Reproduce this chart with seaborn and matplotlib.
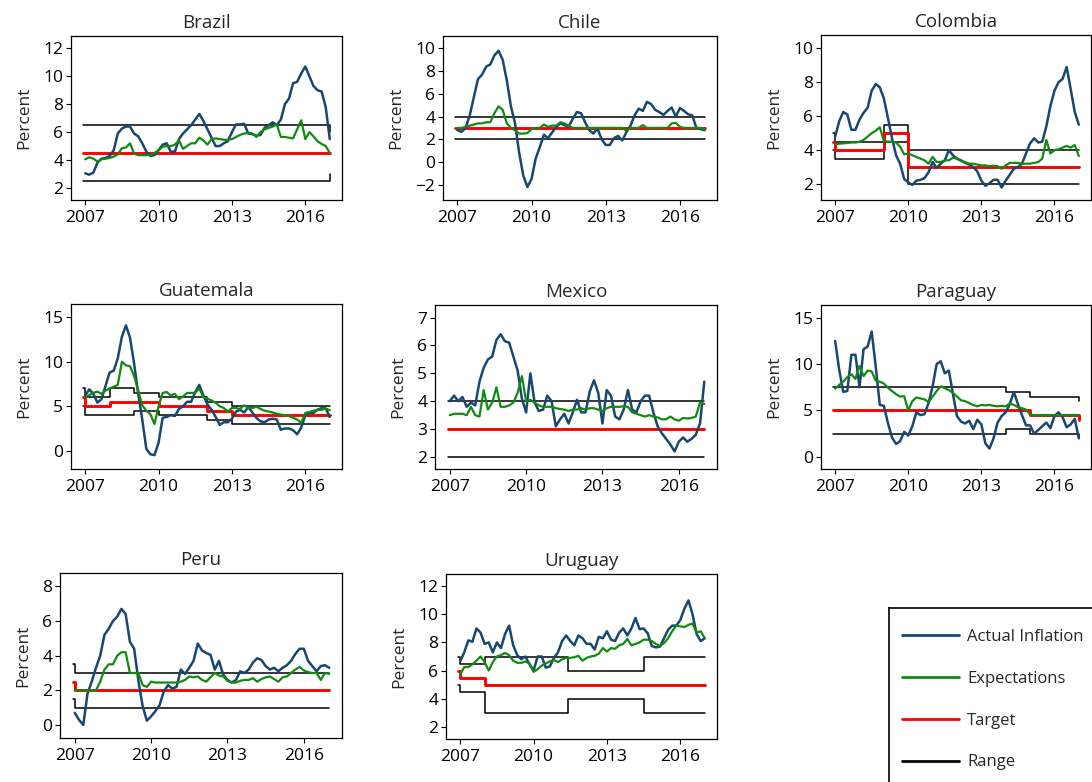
import numpy as np
import matplotlib
matplotlib.use("Agg")
import matplotlib.pyplot as plt
from matplotlib.lines import Line2D
import seaborn as sns

OUTPUT_PATH = "out.png"

# bi-monthly observations, Jan 2007 .. Jan 2017
YEARS = 2007 + np.arange(61) / 6

BRAZIL_INFL = [3.05, 2.95, 3.1, 3.8, 4.1, 4.15, 4.3, 4.7, 5.9, 6.25,
               6.4, 6.4, 5.9, 5.7, 5.2, 4.6, 4.3, 4.35, 4.7, 5.1,
               5.2, 4.6, 4.6, 5.5, 5.9, 6.2, 6.5, 6.9, 7.3, 6.8,
               6.2, 5.6, 5.0, 5.0, 5.2, 5.35, 6.0, 6.55, 6.55, 6.6,
               5.9, 5.85, 5.75, 5.8, 6.3, 6.5, 6.7, 6.5, 6.9, 8.0,
               8.4, 9.5, 9.6, 10.2, 10.7, 10.0, 9.3, 9.0, 8.9, 7.8,
               5.5]
BRAZIL_EXP = [4.05, 4.2, 4.1, 3.9, 4.05, 4.1, 4.15, 4.25, 4.4, 4.85,
              4.9, 5.2, 4.45, 4.35, 4.35, 4.35, 4.35, 4.5, 4.7, 4.95,
              5.0, 5.0, 5.1, 5.4, 4.8, 5.0, 5.2, 5.2, 5.6, 5.4,
              5.1, 5.5, 5.55, 5.5, 5.45, 5.45, 5.5, 5.65, 5.8, 5.9,
              5.95, 5.9, 5.65, 6.0, 6.2, 6.3, 6.4, 6.55, 5.65, 5.65,
              5.6, 5.55, 6.2, 6.85, 5.5, 6.0, 5.7, 5.35, 5.15, 5.0,
              4.5]

CHILE_INFL = [2.8, 2.65, 3.0, 4.1, 5.7, 7.3, 7.7, 8.4, 8.6, 9.4,
              9.8, 9.0, 7.2, 4.9, 3.4, 0.8, -1.2, -2.2, -1.5, 0.3,
              1.3, 2.4, 2.1, 2.6, 3.1, 3.4, 3.25, 3.1, 3.8, 4.4,
              4.3, 3.5, 2.8, 2.5, 2.95, 2.0, 1.5, 1.5, 2.1, 2.3,
              1.9, 2.6, 3.2, 4.1, 4.7, 4.5, 5.3, 5.1, 4.6, 4.4,
              4.15, 4.5, 4.8, 4.0, 4.75, 4.5, 4.2, 4.1, 3.0, 2.9,
              2.8]
CHILE_EXP = [3.0, 3.0, 3.1, 3.2, 3.3, 3.4, 3.4, 3.5, 3.5, 4.3,
             4.9, 4.6, 3.4, 3.0, 2.8, 2.5, 2.5, 2.55, 2.9, 3.0,
             3.0, 3.3, 3.1, 3.2, 3.2, 3.5, 3.4, 3.2, 3.0, 3.0,
             3.0, 3.0, 3.0, 3.0, 3.0, 3.0, 3.0, 3.0, 3.0, 3.0,
             3.0, 2.75, 3.0, 3.0, 3.0, 3.25, 3.0, 3.0, 3.0, 3.0,
             3.0, 3.0, 3.4, 3.45, 3.1, 3.0, 3.0, 3.0, 3.0, 3.0,
             2.9]

COLOMBIA_INFL = [4.8, 5.7, 6.25, 6.1, 5.2, 5.2, 5.8, 6.2, 6.5, 7.5,
                 7.9, 7.7, 7.05, 5.9, 4.7, 3.7, 3.2, 2.3, 2.1, 1.95,
                 2.2, 2.25, 2.35, 2.7, 3.3, 2.95, 3.2, 3.4, 4.0, 3.7,
                 3.5, 3.4, 3.25, 3.15, 3.0, 2.75, 2.2, 1.9, 2.05, 2.25,
                 2.25, 1.8, 2.2, 2.55, 2.9, 3.0, 3.2, 3.8, 4.4, 4.7,
                 4.45, 4.5, 5.4, 6.6, 7.5, 8.0, 8.2, 8.9, 7.6, 6.25,
                 5.5]
COLOMBIA_EXP = [4.35, 4.38, 4.4, 4.42, 4.45, 4.45, 4.5, 4.6, 4.8, 5.0,
                5.15, 5.35, 4.55, 4.5, 4.5, 4.45, 4.2, 3.75, 3.8, 3.7,
                3.6, 3.5, 3.4, 3.2, 3.6, 3.3, 3.3, 3.4, 3.4, 3.55,
                3.5, 3.35, 3.3, 3.2, 3.2, 3.15, 3.1, 3.1, 3.05, 3.08,
                3.05, 2.9, 3.1, 3.25, 3.25, 3.25, 3.2, 3.2, 3.2, 3.25,
                3.3, 3.5, 4.6, 3.8, 4.0, 4.05, 4.15, 4.25, 4.15, 4.3,
                3.65]

GUATEMALA_INFL = [6.2, 6.9, 6.4, 5.4, 5.8, 7.3, 8.8, 9.0, 10.4, 12.8,
                  14.1, 12.7, 9.8, 6.4, 3.5, 0.2, -0.4, -0.5, 0.9, 3.7,
                  3.8, 4.0, 3.9, 4.7, 5.0, 5.5, 5.5, 6.6, 7.4, 6.2,
                  5.2, 4.6, 3.8, 2.9, 3.2, 3.2, 3.6, 4.4, 4.6, 4.3,
                  4.9, 4.3, 3.7, 3.3, 3.2, 3.5, 3.6, 3.5, 2.35, 2.5,
                  2.5, 2.3, 1.85, 2.6, 4.0, 4.25, 4.25, 4.6, 4.8, 4.75,
                  3.8]
GUATEMALA_EXP = [6.0, 6.25, 6.5, 6.65, 6.4, 6.75, 7.0, 7.2, 7.4, 10.0,
                 9.6, 9.5, 8.4, 6.8, 5.1, 4.5, 4.1, 3.0, 5.0, 6.5,
                 6.6, 6.2, 6.4, 5.8, 6.1, 6.5, 6.5, 6.5, 7.0, 6.0,
                 5.85, 5.65, 5.4, 5.0, 4.8, 4.4, 4.8, 4.8, 4.7, 5.1,
                 4.8, 4.8, 4.95, 4.7, 4.5, 4.4, 4.3, 4.15, 4.05, 4.0,
                 3.9, 3.7, 3.5, 3.15, 4.25, 4.35, 4.5, 4.6, 4.6, 4.75,
                 4.55]

MEXICO_INFL = [4.0, 4.2, 4.0, 4.15, 3.8, 3.95, 3.85, 4.7, 5.2, 5.5,
               5.6, 6.2, 6.4, 6.15, 6.1, 5.6, 5.1, 4.1, 3.6, 5.0,
               3.95, 3.65, 3.7, 4.2, 4.0, 3.1, 3.35, 3.55, 3.2, 3.6,
               4.05, 3.6, 3.6, 4.35, 4.75, 4.3, 3.2, 4.4, 4.2, 3.45,
               3.35, 3.7, 4.4, 3.7, 3.6, 4.0, 4.2, 4.2, 3.6, 3.1,
               2.85, 2.65, 2.45, 2.2, 2.55, 2.7, 2.55, 2.65, 2.8, 3.2,
               4.7]
MEXICO_EXP = [3.5, 3.55, 3.55, 3.55, 3.5, 3.8, 3.5, 3.45, 4.4, 3.7,
              3.95, 4.5, 3.8, 3.8, 3.85, 3.95, 4.3, 4.9, 4.0, 4.05,
              3.95, 3.85, 3.8, 3.8, 3.8, 3.75, 3.72, 3.7, 3.65, 3.7,
              3.7, 3.75, 3.7, 3.75, 3.75, 3.7, 3.65, 3.75, 3.8, 3.8,
              3.8, 3.82, 3.8, 3.6, 3.55, 3.5, 3.45, 3.5, 3.45, 3.42,
              3.35, 3.35, 3.45, 3.35, 3.3, 3.4, 3.38, 3.4, 3.45, 3.95,
              3.9]

PARAGUAY_INFL = [12.5, 9.4, 7.0, 7.1, 11.0, 11.0, 7.5, 11.6, 11.9, 13.5,
                 9.7, 5.6, 5.5, 3.65, 2.1, 1.4, 1.7, 2.7, 2.3, 3.3,
                 4.8, 4.5, 4.6, 5.8, 7.6, 10.0, 10.3, 9.0, 9.3, 6.8,
                 4.4, 3.8, 3.6, 3.9, 3.0, 4.0, 3.5, 1.45, 0.9, 2.0,
                 3.7, 4.4, 4.8, 5.7, 7.0, 5.7, 4.5, 3.4, 3.4, 2.5,
                 2.9, 3.3, 3.7, 3.1, 4.4, 4.8, 4.3, 3.2, 3.5, 4.1,
                 2.0]
PARAGUAY_EXP = [7.35, 7.75, 8.1, 8.6, 8.9, 8.4, 9.8, 8.7, 9.3, 9.2,
                8.2, 8.1, 7.9, 7.45, 7.1, 6.75, 6.5, 6.55, 5.0, 6.0,
                6.4, 6.3, 6.2, 5.9, 6.5, 7.1, 7.6, 7.4, 7.2, 6.9,
                6.5, 6.1, 6.0, 5.8, 5.6, 5.45, 5.6, 5.55, 5.6, 5.5,
                5.45, 5.5, 5.45, 5.75, 5.6, 5.35, 5.25, 5.1, 4.55, 4.5,
                4.5, 4.5, 4.5, 4.5, 4.5, 4.5, 4.5, 4.5, 4.5, 4.5,
                4.5]

PERU_INFL = [0.7, 0.3, 0.0, 1.8, 2.5, 3.3, 4.0, 5.2, 5.55, 6.0,
             6.25, 6.7, 6.4, 4.8, 4.4, 2.55, 1.1, 0.25, 0.5, 0.8,
             1.15, 1.95, 2.3, 2.1, 2.2, 3.2, 2.95, 3.3, 3.7, 4.7,
             4.3, 4.15, 4.05, 3.2, 3.7, 2.9, 2.6, 2.45, 2.6, 3.1,
             3.0, 3.2, 3.6, 3.85, 3.75, 3.4, 3.2, 3.3, 3.1, 3.3,
             3.45, 3.7, 4.1, 4.4, 4.4, 3.7, 3.4, 3.1, 3.4, 3.45,
             3.3]
PERU_EXP = [2.0, 2.0, 2.0, 2.0, 2.0, 2.0, 2.5, 3.2, 3.5, 3.5,
            4.0, 4.2, 4.2, 3.0, 3.0, 3.0, 2.3, 2.2, 2.5, 2.45,
            2.45, 2.45, 2.45, 2.45, 2.45, 2.5, 2.6, 2.8, 2.75, 2.8,
            2.6, 2.5, 2.75, 3.0, 2.85, 2.8, 2.55, 2.45, 2.45, 2.55,
            2.6, 2.6, 2.7, 2.5, 2.65, 2.75, 2.8, 2.65, 2.5, 2.75,
            2.8, 3.0, 3.2, 3.35, 3.15, 3.05, 3.0, 3.0, 2.6, 3.0,
            2.95]

URUGUAY_INFL = [6.65, 7.3, 8.15, 8.05, 9.0, 8.7, 7.9, 8.0, 7.3, 8.0,
                7.6, 8.6, 9.2, 7.8, 7.1, 6.8, 7.0, 6.45, 6.0, 7.0,
                7.0, 6.2, 6.3, 6.9, 7.3, 8.1, 8.5, 8.1, 7.8, 8.5,
                8.3, 7.9, 7.9, 7.5, 8.4, 8.3, 8.8, 8.2, 8.1, 8.7,
                9.0, 8.5, 9.0, 9.75, 8.95, 9.0, 8.65, 7.75, 7.65, 7.7,
                8.3, 8.9, 9.2, 9.2, 9.6, 10.4, 11.0, 10.0, 8.6, 8.1,
                8.3]
URUGUAY_EXP = [5.7, 6.25, 6.25, 6.45, 6.7, 7.0, 6.6, 6.0, 6.6, 7.0,
               7.1, 7.25, 7.1, 6.7, 6.55, 6.55, 6.65, 6.5, 5.9, 6.1,
               6.35, 6.5, 6.65, 6.75, 6.6, 6.8, 6.9, 6.9, 6.95, 7.05,
               6.7, 6.9, 7.0, 7.05, 7.2, 7.6, 7.35, 7.6, 7.55, 7.8,
               7.9, 8.25, 7.8, 7.9, 8.0, 8.2, 8.2, 8.1, 7.9, 7.75,
               7.95, 8.3, 8.8, 9.2, 9.15, 9.1, 9.25, 9.35, 8.7, 8.8,
               8.3]

# target and range regimes: dates where a new value starts
BRAZIL_STEPS = [2006.92, 2016.92, 2017.0]
BRAZIL_TGT = [4.5, 4.5, 4.5]
BRAZIL_LO = [2.5, 2.5, 3.0]
BRAZIL_HI = [6.5, 6.5, 6.0]

CHILE_STEPS = [2006.92, 2017.0]
CHILE_TGT = [3.0, 3.0]
CHILE_LO = [2.0, 2.0]
CHILE_HI = [4.0, 4.0]

COLOMBIA_STEPS = [2006.92, 2007.0, 2009.0, 2010.0, 2017.0]
COLOMBIA_TGT = [4.5, 4.0, 5.0, 3.0, 3.0]
COLOMBIA_LO = [4.0, 3.5, 4.5, 2.0, 2.0]
COLOMBIA_HI = [5.0, 4.5, 5.5, 4.0, 4.0]

GUATEMALA_STEPS = [2006.92, 2007.0, 2008.0, 2009.0, 2010.0, 2012.0, 2013.0, 2017.0]
GUATEMALA_TGT = [6.0, 5.0, 5.5, 5.5, 5.0, 4.5, 4.0, 4.0]
GUATEMALA_LO = [5.0, 4.0, 4.0, 4.5, 4.0, 3.5, 3.0, 3.0]
GUATEMALA_HI = [7.0, 6.0, 7.0, 6.5, 6.0, 5.5, 5.0, 5.0]

MEXICO_STEPS = [2006.92, 2017.0]
MEXICO_TGT = [3.0, 3.0]
MEXICO_LO = [2.0, 2.0]
MEXICO_HI = [4.0, 4.0]

PARAGUAY_STEPS = [2006.92, 2014.0, 2015.0, 2016.92, 2017.0]
PARAGUAY_TGT = [5.0, 5.0, 4.5, 4.5, 4.0]
PARAGUAY_LO = [2.5, 3.0, 2.5, 2.5, 2.0]
PARAGUAY_HI = [7.5, 7.0, 6.5, 6.5, 6.0]

PERU_STEPS = [2006.92, 2007.0, 2017.0]
PERU_TGT = [2.5, 2.0, 2.0]
PERU_LO = [1.5, 1.0, 1.0]
PERU_HI = [3.5, 3.0, 3.0]

URUGUAY_STEPS = [2006.92, 2007.0, 2008.0, 2011.42, 2014.5, 2017.0]
URUGUAY_TGT = [6.0, 5.5, 5.0, 5.0, 5.0, 5.0]
URUGUAY_LO = [5.0, 4.5, 3.0, 4.0, 3.0, 3.0]
URUGUAY_HI = [7.0, 6.5, 7.0, 6.0, 7.0, 7.0]

SERIES = {
    "Brazil": (BRAZIL_INFL, BRAZIL_EXP, BRAZIL_STEPS, BRAZIL_TGT, BRAZIL_LO, BRAZIL_HI),
    "Chile": (CHILE_INFL, CHILE_EXP, CHILE_STEPS, CHILE_TGT, CHILE_LO, CHILE_HI),
    "Colombia": (COLOMBIA_INFL, COLOMBIA_EXP, COLOMBIA_STEPS, COLOMBIA_TGT, COLOMBIA_LO, COLOMBIA_HI),
    "Guatemala": (GUATEMALA_INFL, GUATEMALA_EXP, GUATEMALA_STEPS, GUATEMALA_TGT, GUATEMALA_LO, GUATEMALA_HI),
    "Mexico": (MEXICO_INFL, MEXICO_EXP, MEXICO_STEPS, MEXICO_TGT, MEXICO_LO, MEXICO_HI),
    "Paraguay": (PARAGUAY_INFL, PARAGUAY_EXP, PARAGUAY_STEPS, PARAGUAY_TGT, PARAGUAY_LO, PARAGUAY_HI),
    "Peru": (PERU_INFL, PERU_EXP, PERU_STEPS, PERU_TGT, PERU_LO, PERU_HI),
    "Uruguay": (URUGUAY_INFL, URUGUAY_EXP, URUGUAY_STEPS, URUGUAY_TGT, URUGUAY_LO, URUGUAY_HI),
}

# panel boxes in pixels (left, top, right, bottom), y limits, y ticks
PANELS = {
    "Brazil": ((71, 36, 342, 200), (1.14, 12.88), [2, 4, 6, 8, 10, 12]),
    "Chile": ((443, 36, 717, 200), (-3.35, 11.1), [-2, 0, 2, 4, 6, 8, 10]),
    "Colombia": ((821, 35, 1091, 200), (1.06, 10.79), [2, 4, 6, 8, 10]),
    "Guatemala": ((71, 304, 342, 469), (-2.06, 16.5), [0, 5, 10, 15]),
    "Mexico": ((435, 305, 717, 469), (1.57, 7.45), [2, 3, 4, 5, 6, 7]),
    "Paraguay": ((821, 305, 1091, 469), (-1.3, 16.36), [0, 5, 10, 15]),
    "Peru": ((60, 573, 342, 738), (-0.75, 8.77), [0, 2, 4, 6, 8]),
    "Uruguay": ((446, 574, 717, 739), (1.12, 12.88), [2, 4, 6, 8, 10, 12]),
}

BLUE = "#1a476f"
GREEN = "#118a11"
RED = "#ff0000"
BLACK = "#000000"
W, H = 1092, 782


def frac(l, t, r, b):
    return [l / W, 1 - b / H, (r - l) / W, (b - t) / H]


def main():
    sns.set_style("ticks")
    plt.rcParams["font.family"] = ["Open Sans", "DejaVu Sans"]

    fig = plt.figure(figsize=(W / 100, H / 100), dpi=100)
    fig.patch.set_facecolor("white")

    for name, (box, ylim, yticks) in PANELS.items():
        infl, exp, steps, tgt, lo, hi = SERIES[name]
        ax = fig.add_axes(frac(*box))

        for band in (lo, hi):
            sns.lineplot(x=steps, y=band, ax=ax, color=BLACK, linewidth=1.1,
                         drawstyle="steps-post", estimator=None, sort=False)
        sns.lineplot(x=steps, y=tgt, ax=ax, color=RED, linewidth=2.1,
                     drawstyle="steps-post", estimator=None, sort=False)
        sns.lineplot(x=YEARS, y=infl, ax=ax, color=BLUE, linewidth=1.8,
                     estimator=None, sort=False)
        sns.lineplot(x=YEARS, y=exp, ax=ax, color=GREEN, linewidth=1.6,
                     estimator=None, sort=False)

        ax.set_xlim(2006.42, 2017.5)
        ax.set_ylim(*ylim)
        ax.set_xticks([2007, 2010, 2013, 2016])
        ax.set_yticks(yticks)
        ax.set_title(name, fontsize=13.5, pad=6)
        ax.set_xlabel("")
        ax.set_ylabel("Percent", fontsize=12.5, labelpad=8)
        ax.tick_params(direction="out", length=3.6, width=0.8, labelsize=12.5,
                       colors="black")
        ax.tick_params(axis="y", pad=2)
        ax.set_facecolor("white")
        for sp in ax.spines.values():
            sp.set_color("black")
            sp.set_linewidth(0.9)

    # legend box in the empty cell
    lax = fig.add_axes(frac(889, 608, 1092, 782))
    lax.set_xticks([])
    lax.set_yticks([])
    lax.spines["right"].set_visible(False)
    lax.spines["bottom"].set_visible(False)
    for sp in ("left", "top"):
        lax.spines[sp].set_color("black")
        lax.spines[sp].set_linewidth(1.2)

    handles = [
        Line2D([], [], color=BLUE, linewidth=2.0),
        Line2D([], [], color=GREEN, linewidth=2.0),
        Line2D([], [], color=RED, linewidth=2.0),
        Line2D([], [], color=BLACK, linewidth=2.0),
    ]
    labels = ["Actual Inflation", "Expectations", "Target", "Range"]
    lax.legend(handles, labels, loc="upper left", bbox_to_anchor=(0.065, 0.88),
               frameon=False, fontsize=12, handlelength=3.4, handletextpad=0.5,
               labelspacing=1.55, borderpad=0, borderaxespad=0)

    fig.savefig(OUTPUT_PATH, dpi=100)
    plt.close(fig)


if __name__ == "__main__":
    main()
